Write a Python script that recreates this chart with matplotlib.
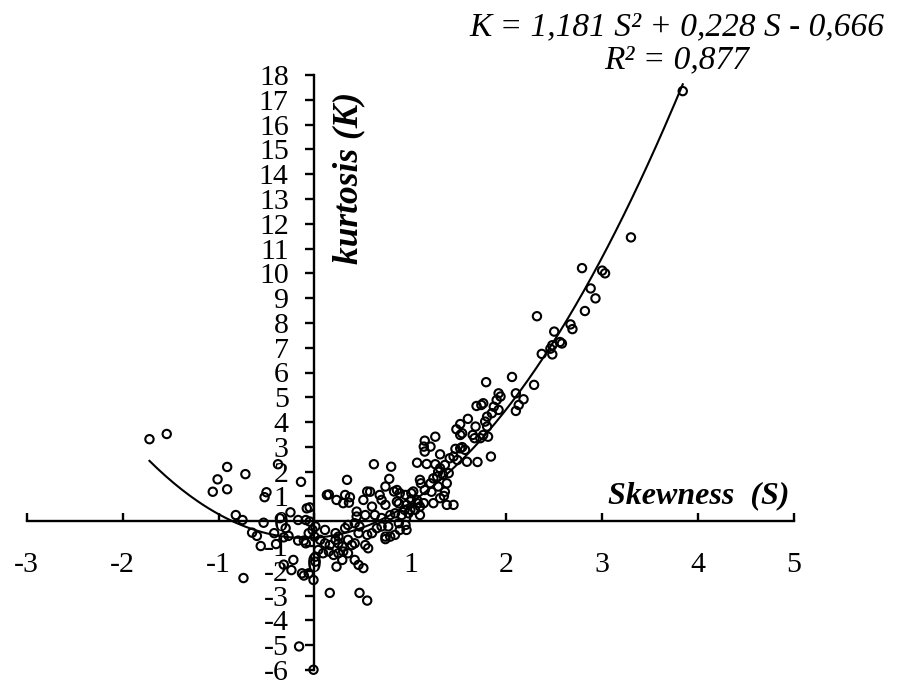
import matplotlib
matplotlib.use('Agg')
import matplotlib.pyplot as plt
import numpy as np

# skewness / kurtosis pairs
skew = [
    -1.72, -1.54, -0.91, -1.01, -1.06, -0.91, -0.72, -0.50, -0.52, -0.38,
    -0.14, -0.05, -0.08, -0.82, -0.75, -0.53, -0.36, -0.25, -0.17, -0.09,
    -0.65, -0.60, -0.56, -0.40, -0.30, -0.32, -0.27, -0.42, -0.17, -0.11,
    -0.09, -0.02, -0.22, -0.32, -0.24, -0.13, -0.11, -0.74, -0.01, -0.16,
    -0.01, -0.05, -0.06, -0.06,
    0.01, 0.00, 0.01, 0.01, 0.04, 0.06, 0.09, 0.11, 0.11, 0.13,
    0.15, 0.15, 0.16, 0.16, 0.20, 0.22, 0.22, 0.23, 0.23, 0.25,
    0.25, 0.25, 0.29, 0.29, 0.30, 0.30, 0.32, 0.32, 0.34, 0.35,
    0.35, 0.35, 0.36, 0.37, 0.39, 0.42, 0.42, 0.42, 0.44, 0.44,
    0.46, 0.46, 0.47, 0.47, 0.51, 0.51, 0.53, 0.53, 0.55, 0.55,
    0.55, 0.56, 0.58, 0.60, 0.60, 0.62, 0.63, 0.65, 0.68, 0.70,
    0.70, 0.70, 0.74, 0.74, 0.74, 0.74, 0.77, 0.78, 0.79, 0.79,
    0.80, 0.83, 0.84, 0.84, 0.86, 0.86, 0.88, 0.88, 0.89, 0.89,
    0.91, 0.94, 0.95, 0.95, 0.96, 0.96, 0.98, 1.00, 1.01, 1.01,
    1.03, 1.05, 1.07, 1.07, 1.08, 1.10, 1.10, 1.10, 1.11, 1.14,
    1.14, 1.15, 1.15, 1.15, 1.17, 1.21, 1.21, 1.22, 1.24, 1.24,
    1.26, 1.26, 1.28, 1.29, 1.29, 1.31, 1.31, 1.31, 1.34, 1.35,
    1.36, 1.36, 1.38, 1.38, 1.40, 1.41, 1.45, 1.45, 1.47, 1.48,
    1.49, 1.52, 1.52, 1.52, 1.54, 1.54, 1.57, 1.59, 1.60, 1.65,
    1.67, 1.68, 1.69, 1.70, 1.73, 1.74, 1.76, 1.76, 1.78, 1.79,
    1.80, 1.80, 1.81, 1.84, 1.85, 1.87, 1.90, 1.92, 1.92, 1.94,
    2.06, 2.10, 2.10, 2.13, 2.18, 2.29, 2.32, 2.37, 2.46, 2.48,
    2.48, 2.50, 2.56, 2.58, 2.67, 2.69, 2.79, 2.82, 2.88, 2.93,
    3.00, 3.03, 3.30, 3.84,
]
kurt = [
    3.31, 3.52, 2.19, 1.69, 1.19, 1.29, 1.90, 1.17, 0.97, 2.30,
    1.59, 0.56, 0.52, 0.25, 0.05, -0.06, 0.12, 0.36, 0.05, 0.05,
    -0.46, -0.59, -1.00, -0.92, -0.28, -0.65, -0.59, -0.48, -0.78, -0.78,
    -0.89, -0.35, -1.56, -1.75, -1.97, -2.10, -2.19, -2.29, -2.37, -5.05,
    -5.99, -0.01, -0.48, -2.10,
    -0.21, -0.62, -1.43, -1.63, -1.16, -0.75, -1.29, -0.35, -0.89, 1.06,
    1.08, -1.22, -0.96, -2.89, -1.36, -0.48, -0.75, 0.86, -1.83, -0.62,
    -0.89, -1.29, -1.02, -1.56, 0.73, -1.22, 1.06, -0.28, 1.67, -0.15,
    -0.75, -1.29, 0.75, 0.97, -0.96, -0.08, -0.89, -1.56, 0.39, 0.19,
    -0.48, -1.76, -0.21, -2.89, 0.86, -1.89, 0.25, -0.96, 1.20, -0.55,
    -3.20, -1.09, 1.19, 0.59, -0.48, 2.30, 0.25, -0.28, 1.06, 0.86,
    0.13, -0.21, 0.66, 1.40, -0.62, -0.72, -0.21, 1.71, 0.25, -0.62,
    2.20, 1.20, 0.32, -0.55, 1.26, 0.79, 0.72, -0.08, 1.13, -0.35,
    0.25, 0.46, 1.06, -0.15, 0.66, -0.35, 0.32, 0.46, 0.86, 1.13,
    1.20, 0.46, 2.36, 0.86, 0.72, 0.25, 1.67, 0.59, 1.53, 0.73,
    3.01, 1.26, 2.81, 3.25, 2.31, 1.53, 3.01, 1.19, 0.73, 1.73,
    2.30, 3.41, 1.80, 1.40, 2.00, 0.93, 2.14, 2.70, 1.87, 1.02,
    1.19, 2.27, 0.66, 1.53, 1.94, 2.54, 0.66, 2.61, 2.92, 3.71,
    2.47, 3.92, 3.48, 2.94, 3.55, 2.99, 2.88, 2.40, 4.13, 3.48,
    3.35, 3.82, 4.65, 2.39, 3.35, 4.69, 4.76, 3.48, 4.02, 5.61,
    4.22, 3.82, 3.41, 2.61, 4.36, 4.62, 4.89, 5.16, 4.49, 5.03,
    5.82, 5.16, 4.45, 4.69, 4.92, 5.50, 8.27, 6.75, 6.96, 7.10,
    6.73, 7.65, 7.23, 7.17, 7.94, 7.75, 10.21, 8.48, 9.39, 8.99,
    10.11, 10.00, 11.45, 17.35,
]

# quadratic trendline K = a S^2 + b S + c
fit_coef = [1.181, 0.228, -0.666]
r_squared = 0.877

x_ticks = list(range(-3, 6))
y_ticks = list(range(-6, 19))

plt.rcParams['font.family'] = ['Liberation Serif', 'DejaVu Serif']
plt.rcParams['axes.unicode_minus'] = False

fig = plt.figure(figsize=(8.97, 6.88), dpi=100)
ax = fig.add_axes([26.7 / 897, 18 / 688, 767.3 / 897, 595 / 688])

ax.set_xlim(-3, 5)
ax.set_ylim(-6, 18)

# axes cross at the origin
for side in ['top', 'right']:
    ax.spines[side].set_visible(False)
ax.spines['left'].set_position(('data', 0))
ax.spines['bottom'].set_position(('data', 0))
for side in ['left', 'bottom']:
    ax.spines[side].set_linewidth(1.7)

ax.set_xticks(x_ticks)
ax.set_yticks(y_ticks)
ax.tick_params(axis='x', direction='in', length=6, width=1.7, labelsize=21.5, pad=22)
ax.tick_params(axis='y', direction='out', length=6.5, width=1.7, labelsize=21.5, pad=12)

# trendline over the range of the data
s_line = np.linspace(min(skew), max(skew), 200)
ax.plot(s_line, np.polyval(fit_coef, s_line), color='black', lw=1.5, zorder=2)

ax.scatter(skew, kurt, s=36, facecolors='none', edgecolors='black',
           linewidths=1.5, zorder=3, clip_on=False)

ax.text(4.95, 0.74, 'Skewness  (S)', ha='right', va='baseline', fontsize=23,
        fontweight='bold', style='italic')
ax.text(0.36, 13.85, 'kurtosis (K)', rotation=90, ha='center', va='center',
        fontsize=25.5, fontweight='bold', style='italic')

eq = 'K = {:.3f} S² + {:.3f} S - {:.3f}'.format(fit_coef[0], fit_coef[1], -fit_coef[2]).replace('.', ',')
fig.text(677 / 897, 1 - 35 / 688, eq, ha='center', va='baseline', fontsize=24, style='italic')
fig.text(677 / 897, 1 - 68 / 688, 'R² = {:.3f}'.format(r_squared).replace('.', ','),
         ha='center', va='baseline', fontsize=24, style='italic')

fig.savefig('out.png', dpi=100)
